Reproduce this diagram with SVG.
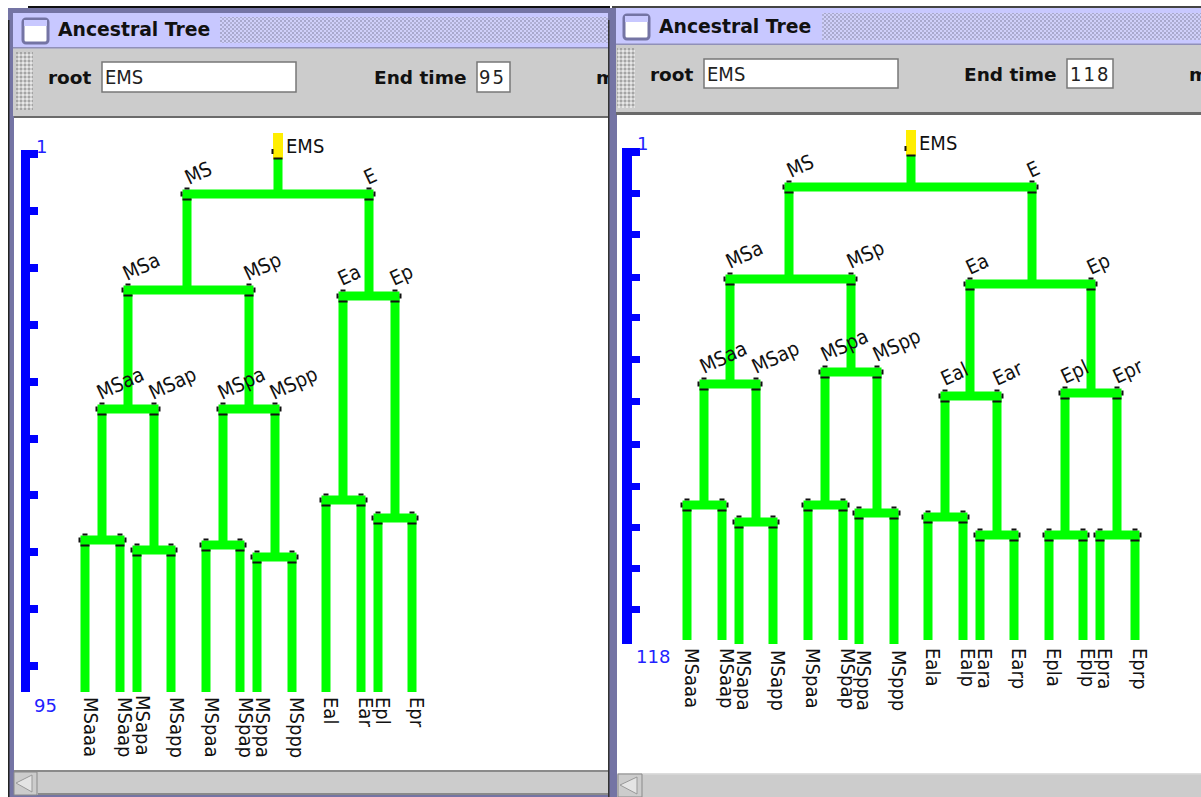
<svg xmlns="http://www.w3.org/2000/svg" width="1201" height="797" viewBox="0 0 1201 797">
<style>
.ti{font:bold 18.8px "DejaVu Sans",sans-serif;fill:#111}
.tb{font:bold 18.5px "DejaVu Sans",sans-serif;fill:#111}
.fv{font:18px "DejaVu Sans",sans-serif;fill:#222}
.l{font:18px "DejaVu Sans",sans-serif;fill:#111}
.b{font:18px "DejaVu Sans",sans-serif;fill:#2222ff}
.c{fill:none;stroke:#00ff00;stroke-width:9}
.cap{fill:none;stroke:#111;stroke-width:2}
.ruler{fill:#0000ff}
.field{fill:#fff;stroke:#777;stroke-width:1.5}
.frame{fill:#7474a4}
.title{fill:#c8c8ff}
.bar{fill:#cccccc}
.edge{fill:#6a6a6a}
.icon{fill:#fff;stroke:#7474a4;stroke-width:3}
</style>
<defs>
<pattern id="dot" width="4" height="4" patternUnits="userSpaceOnUse"><rect width="4" height="4" fill="#d0d0fa"/><rect width="2" height="2" fill="#a8a8cc"/><rect x="2" y="2" width="2" height="2" fill="#b0b0d4"/></pattern>
<pattern id="grip" width="4" height="4" patternUnits="userSpaceOnUse"><rect width="4" height="4" fill="#cccccc"/><rect width="2" height="2" fill="#a4a4a4"/><rect x="2" y="2" width="2" height="2" fill="#e6e6e6"/></pattern>
<path id="cl" class="cap" d="M-5.500 -2.500V2.500M-2.500 -5.500H2.500M-4.500 5.500H4.500"/>
<path id="cr" class="cap" d="M5.500 -2.500V2.500M-2.500 -5.500H2.500M-4.500 5.500H4.500"/>
<path id="cy" class="cap" d="M-5.500 -4V1M-4.500 5.500H4.500"/>
</defs>
<rect width="1201" height="797" fill="#fff"/>

<g id="window-left">
<rect x="28" y="6" width="582" height="2" fill="#111"/>
<rect x="8" y="8" width="602" height="789" class="frame"/>
<rect x="8" y="20" width="1.5" height="777" fill="#222"/>
<rect x="13" y="13" width="597" height="35" class="title"/>
<rect x="220" y="17" width="390" height="26" fill="url(#dot)"/>
<rect x="23" y="19" width="25" height="24" rx="3" class="icon"/>
<rect x="24" y="20" width="23" height="6" fill="#c8c8ff"/>
<text x="58" y="36" class="ti">Ancestral Tree</text>
<rect x="13" y="48" width="597" height="68" class="bar"/>
<rect x="13" y="47" width="597" height="1.5" fill="#9090b8"/>
<rect x="16" y="52" width="17" height="58" fill="url(#grip)"/>
<text x="48" y="84" class="tb">root</text>
<rect x="102" y="62" width="194" height="30" class="field"/>
<text x="105" y="84" class="fv" transform="translate(0 -8.400) scale(1 1.100)">EMS</text>
<text x="374" y="84" class="tb">End time</text>
<rect x="477" y="62" width="33" height="30" class="field"/>
<text x="479" y="84" class="fv" letter-spacing="2" transform="translate(0 -8.400) scale(1 1.100)">95</text>
<text x="596" y="84" class="tb">m</text>
<rect x="14" y="116" width="594" height="2.5" class="edge"/>
<rect x="14" y="118" width="594" height="652" fill="#fff"/>
<rect x="14" y="770" width="594" height="25" class="bar"/>
<rect x="14" y="770" width="594" height="2" fill="#8a8a8a"/>
<path d="M14 772H37V795H14Z" fill="#cccccc" stroke="#8a8a8a"/>
<path d="M32 775V792L16 783Z" fill="#e4e4e4" stroke="#999"/>
<rect x="38" y="793" width="570" height="2" fill="#8a8a8a"/>
</g>

<g id="ruler-left">
<path class="ruler" d="M21 150H38V158H30V207H38V215H30V264H38V272H30V321H38V329H30V378H38V386H30V435H38V443H30V491H38V499H30V548H38V556H30V605H38V613H30V662H38V670H30V692H21Z"/>
<text x="36" y="153" class="b">1</text>
<text x="34" y="712" class="b">95</text>
</g>

<g id="connectors-left">
<path class="c" d="M278 159V194M182.500 194H373.500"/>
<path class="c" d="M187 194V290M369 194V296"/>
<path class="c" d="M123.500 290H253.500M338.500 296H399.500"/>
<path class="c" d="M128 290V409M249 290V409M343 296V500M395 296V518"/>
<path class="c" d="M97.500 409H158.500M218.500 409H279.500"/>
<path class="c" d="M102 409V540M154 409V550M223 409V545M275 409V557"/>
<path class="c" d="M80.500 540H124.500M132.500 550H175.500M201.500 545H244.500M252.500 557H296.500M321.500 500H365.500M373.500 518H416.500"/>
<path class="c" d="M85 540V692M120 540V692M137 550V692M171 550V692M206 545V692M240 545V692M257 557V692M292 557V692M326 500V692M361 500V692M378 518V692M412 518V692"/>
</g>

<g id="tree-left">
<g id="L-EMS"><rect x="273" y="133" width="10" height="26" fill="#ffee00"/><use href="#cy" x="278" y="153"/><text transform="translate(286 153) scale(1 1.120)" class="l">EMS</text></g>
<g id="L-MS"><use href="#cl" x="187" y="194"/><text transform="translate(189 185) rotate(-25) scale(1 1.120)" class="l">MS</text></g>
<g id="L-E"><use href="#cr" x="369" y="194"/><text transform="translate(368 185) rotate(-25) scale(1 1.120)" class="l">E</text></g>
<g id="L-MSa"><use href="#cl" x="128" y="290"/><text transform="translate(127 281) rotate(-25) scale(1 1.120)" class="l">MSa</text></g>
<g id="L-MSp"><use href="#cr" x="249" y="290"/><text transform="translate(248 281) rotate(-25) scale(1 1.120)" class="l">MSp</text></g>
<g id="L-Ea"><use href="#cl" x="343" y="296"/><text transform="translate(342 286) rotate(-25) scale(1 1.120)" class="l">Ea</text></g>
<g id="L-Ep"><use href="#cr" x="395" y="296"/><text transform="translate(394 286) rotate(-25) scale(1 1.120)" class="l">Ep</text></g>
<g id="L-MSaa"><use href="#cl" x="102" y="409"/><text transform="translate(101 400) rotate(-25) scale(1 1.120)" class="l">MSaa</text></g>
<g id="L-MSap"><use href="#cr" x="154" y="409"/><text transform="translate(153 400) rotate(-25) scale(1 1.120)" class="l">MSap</text></g>
<g id="L-MSpa"><use href="#cl" x="223" y="409"/><text transform="translate(222 400) rotate(-25) scale(1 1.120)" class="l">MSpa</text></g>
<g id="L-MSpp"><use href="#cr" x="275" y="409"/><text transform="translate(274 400) rotate(-25) scale(1 1.120)" class="l">MSpp</text></g>
<g id="L-c1"><use href="#cl" x="85" y="540"/><use href="#cr" x="120" y="540"/></g>
<g id="L-c2"><use href="#cl" x="137" y="550"/><use href="#cr" x="171" y="550"/></g>
<g id="L-c3"><use href="#cl" x="206" y="545"/><use href="#cr" x="240" y="545"/></g>
<g id="L-c4"><use href="#cl" x="257" y="557"/><use href="#cr" x="292" y="557"/></g>
<g id="L-c5"><use href="#cl" x="326" y="500"/><use href="#cr" x="361" y="500"/></g>
<g id="L-c6"><use href="#cl" x="378" y="518"/><use href="#cr" x="412" y="518"/></g>
<g id="L-MSaaa"><text transform="translate(84 697) rotate(90) scale(1 1.120)" class="l">MSaaa</text></g>
<g id="L-MSaap"><text transform="translate(118 697) rotate(90) scale(1 1.120)" class="l">MSaap</text></g>
<g id="L-MSapa"><text transform="translate(136 695) rotate(90) scale(1 1.120)" class="l">MSapa</text></g>
<g id="L-MSapp"><text transform="translate(170 697) rotate(90) scale(1 1.120)" class="l">MSapp</text></g>
<g id="L-MSpaa"><text transform="translate(205 697) rotate(90) scale(1 1.120)" class="l">MSpaa</text></g>
<g id="L-MSpap"><text transform="translate(239 697) rotate(90) scale(1 1.120)" class="l">MSpap</text></g>
<g id="L-MSppa"><text transform="translate(256 697) rotate(90) scale(1 1.120)" class="l">MSppa</text></g>
<g id="L-MSppp"><text transform="translate(290 697) rotate(90) scale(1 1.120)" class="l">MSppp</text></g>
<g id="L-Eal"><text transform="translate(324 697) rotate(90) scale(1 1.120)" class="l">Eal</text></g>
<g id="L-Ear"><text transform="translate(359 697) rotate(90) scale(1 1.120)" class="l">Ear</text></g>
<g id="L-Epl"><text transform="translate(376 697) rotate(90) scale(1 1.120)" class="l">Epl</text></g>
<g id="L-Epr"><text transform="translate(410 697) rotate(90) scale(1 1.120)" class="l">Epr</text></g>
</g>

<g id="window-right">
<rect x="608" y="8" width="9" height="789" class="frame"/>
<rect x="608" y="20" width="1.500" height="777" fill="#333"/>
<rect x="612" y="6" width="589" height="2" fill="#444"/>
<rect x="616" y="8" width="585" height="36" class="title"/>
<rect x="822" y="13" width="379" height="27" fill="url(#dot)"/>
<rect x="624" y="15" width="25" height="24" rx="3" class="icon"/>
<rect x="625" y="16" width="23" height="6" fill="#c8c8ff"/>
<text x="659" y="33" class="ti">Ancestral Tree</text>
<rect x="616" y="44" width="585" height="68" class="bar"/>
<rect x="616" y="43.500" width="585" height="1.500" fill="#9090b8"/>
<rect x="617" y="48" width="18" height="60" fill="url(#grip)"/>
<text x="650" y="81" class="tb">root</text>
<rect x="704" y="59" width="194" height="29" class="field"/>
<text x="707" y="81" class="fv" transform="translate(0 -8.100) scale(1 1.100)">EMS</text>
<text x="964" y="81" class="tb">End time</text>
<rect x="1067" y="59" width="46" height="29" class="field"/>
<text x="1070" y="81" class="fv" letter-spacing="2" transform="translate(0 -8.100) scale(1 1.100)">118</text>
<text x="1189" y="81" class="tb">m</text>
<rect x="616" y="112" width="585" height="3" class="edge"/>
<rect x="617" y="115" width="584" height="659" fill="#fff"/>
<rect x="617" y="773" width="584" height="24" class="bar"/>
<rect x="617" y="773" width="584" height="1.500" fill="#ddd"/>
<path d="M618 774H642V797H618Z" fill="#cccccc" stroke="#8a8a8a"/>
<path d="M637 777V794L620 785Z" fill="#e4e4e4" stroke="#999"/>
</g>

<g id="ruler-right">
<path class="ruler" d="M622 148H640V156H632V190H640V197H632V231H640V238H632V274H640V281H632V314H640V321H632V356H640V363H632V398H640V405H632V441H640V448H632V483H640V490H632V524H640V531H632V565H640V572H632V606H640V613H632V644H622Z"/>
<text x="637" y="150" class="b">1</text>
<text x="636" y="663" class="b">118</text>
</g>

<g id="connectors-right">
<path class="c" d="M911 155V187M784.500 187H1036.500"/>
<path class="c" d="M789 187V279M1032 187V284"/>
<path class="c" d="M725.500 279H855.500M965.500 284H1095.500"/>
<path class="c" d="M730 279V384M851 279V372M970 284V396M1091 284V393"/>
<path class="c" d="M699.500 384H760.500M820.500 372H881.500M940.500 396H1001.500M1060.500 393H1121.500"/>
<path class="c" d="M704 384V505M756 384V522M825 372V505M877 372V513M945 396V517M997 396V535M1065 393V535M1117 393V535"/>
<path class="c" d="M682.500 505H726.500M734.500 522H777.500M803.500 505H847.500M854.500 513H898.500M923.500 517H967.500M975.500 535H1018.500M1044.500 535H1087.500M1095.500 535H1139.500"/>
<path class="c" d="M687 505V640M722 505V640M739 522V644M773 522V644M808 505V640M843 505V640M859 513V644M894 513V644M928 517V640M963 517V640M980 535V640M1014 535V640M1049 535V640M1083 535V640M1100 535V640M1135 535V640"/>
</g>

<g id="tree-right">
<g id="R-EMS"><rect x="906" y="130" width="10" height="25" fill="#ffee00"/><use href="#cy" x="911" y="150"/><text transform="translate(919 150) scale(1 1.120)" class="l">EMS</text></g>
<g id="R-MS"><use href="#cl" x="789" y="187"/><text transform="translate(791 178) rotate(-25) scale(1 1.120)" class="l">MS</text></g>
<g id="R-E"><use href="#cr" x="1032" y="187"/><text transform="translate(1031 178) rotate(-25) scale(1 1.120)" class="l">E</text></g>
<g id="R-MSa"><use href="#cl" x="730" y="279"/><text transform="translate(730 269) rotate(-25) scale(1 1.120)" class="l">MSa</text></g>
<g id="R-MSp"><use href="#cr" x="851" y="279"/><text transform="translate(851 269) rotate(-25) scale(1 1.120)" class="l">MSp</text></g>
<g id="R-Ea"><use href="#cl" x="970" y="284"/><text transform="translate(970 275) rotate(-25) scale(1 1.120)" class="l">Ea</text></g>
<g id="R-Ep"><use href="#cr" x="1091" y="284"/><text transform="translate(1091 275) rotate(-25) scale(1 1.120)" class="l">Ep</text></g>
<g id="R-MSaa"><use href="#cl" x="704" y="384"/><text transform="translate(704 374) rotate(-25) scale(1 1.120)" class="l">MSaa</text></g>
<g id="R-MSap"><use href="#cr" x="756" y="384"/><text transform="translate(756 374) rotate(-25) scale(1 1.120)" class="l">MSap</text></g>
<g id="R-MSpa"><use href="#cl" x="825" y="372"/><text transform="translate(825 362) rotate(-25) scale(1 1.120)" class="l">MSpa</text></g>
<g id="R-MSpp"><use href="#cr" x="877" y="372"/><text transform="translate(877 362) rotate(-25) scale(1 1.120)" class="l">MSpp</text></g>
<g id="R-Eal"><use href="#cl" x="945" y="396"/><text transform="translate(945 386) rotate(-25) scale(1 1.120)" class="l">Eal</text></g>
<g id="R-Ear"><use href="#cr" x="997" y="396"/><text transform="translate(997 386) rotate(-25) scale(1 1.120)" class="l">Ear</text></g>
<g id="R-Epl"><use href="#cl" x="1065" y="393"/><text transform="translate(1065 384) rotate(-25) scale(1 1.120)" class="l">Epl</text></g>
<g id="R-Epr"><use href="#cr" x="1117" y="393"/><text transform="translate(1117 384) rotate(-25) scale(1 1.120)" class="l">Epr</text></g>
<g id="R-c1"><use href="#cl" x="687" y="505"/><use href="#cr" x="722" y="505"/></g>
<g id="R-c2"><use href="#cl" x="739" y="522"/><use href="#cr" x="773" y="522"/></g>
<g id="R-c3"><use href="#cl" x="808" y="505"/><use href="#cr" x="843" y="505"/></g>
<g id="R-c4"><use href="#cl" x="859" y="513"/><use href="#cr" x="894" y="513"/></g>
<g id="R-c5"><use href="#cl" x="928" y="517"/><use href="#cr" x="963" y="517"/></g>
<g id="R-c6"><use href="#cl" x="980" y="535"/><use href="#cr" x="1014" y="535"/></g>
<g id="R-c7"><use href="#cl" x="1049" y="535"/><use href="#cr" x="1083" y="535"/></g>
<g id="R-c8"><use href="#cl" x="1100" y="535"/><use href="#cr" x="1135" y="535"/></g>
<g id="R-MSaaa"><text transform="translate(685 648) rotate(90) scale(1 1.120)" class="l">MSaaa</text></g>
<g id="R-MSaap"><text transform="translate(720 648) rotate(90) scale(1 1.120)" class="l">MSaap</text></g>
<g id="R-MSapa"><text transform="translate(737 650) rotate(90) scale(1 1.120)" class="l">MSapa</text></g>
<g id="R-MSapp"><text transform="translate(771 650) rotate(90) scale(1 1.120)" class="l">MSapp</text></g>
<g id="R-MSpaa"><text transform="translate(806 648) rotate(90) scale(1 1.120)" class="l">MSpaa</text></g>
<g id="R-MSpap"><text transform="translate(841 648) rotate(90) scale(1 1.120)" class="l">MSpap</text></g>
<g id="R-MSppa"><text transform="translate(857 650) rotate(90) scale(1 1.120)" class="l">MSppa</text></g>
<g id="R-MSppp"><text transform="translate(892 650) rotate(90) scale(1 1.120)" class="l">MSppp</text></g>
<g id="R-Eala"><text transform="translate(926 648) rotate(90) scale(1 1.120)" class="l">Eala</text></g>
<g id="R-Ealp"><text transform="translate(961 648) rotate(90) scale(1 1.120)" class="l">Ealp</text></g>
<g id="R-Eara"><text transform="translate(978 648) rotate(90) scale(1 1.120)" class="l">Eara</text></g>
<g id="R-Earp"><text transform="translate(1012 648) rotate(90) scale(1 1.120)" class="l">Earp</text></g>
<g id="R-Epla"><text transform="translate(1047 648) rotate(90) scale(1 1.120)" class="l">Epla</text></g>
<g id="R-Eplp"><text transform="translate(1081 648) rotate(90) scale(1 1.120)" class="l">Eplp</text></g>
<g id="R-Epra"><text transform="translate(1098 648) rotate(90) scale(1 1.120)" class="l">Epra</text></g>
<g id="R-Eprp"><text transform="translate(1133 648) rotate(90) scale(1 1.120)" class="l">Eprp</text></g>
</g>
</svg>
